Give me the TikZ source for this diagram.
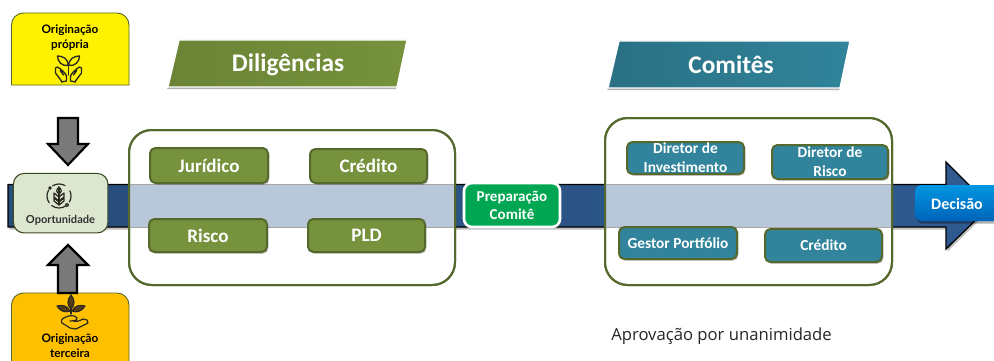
\documentclass[tikz,border=0pt]{standalone}
\usepackage{fontspec}
\setmainfont{Carlito}
\newfontfamily\lato{Lato}
\newfontfamily\opensans{Open Sans}
\usetikzlibrary{shadows,calc}
\definecolor{oliveline}{HTML}{56692C}
\definecolor{olivefill}{HTML}{76923C}
\definecolor{tealfill}{HTML}{31849B}
\definecolor{barblue}{HTML}{2F5A90}
\definecolor{bandblue}{HTML}{B9C7DB}
\definecolor{oppfill}{HTML}{DDE6CF}
\definecolor{icondark}{HTML}{2A2A20}
\tikzset{
 x=.75pt,y=-.75pt,
 softshadow/.style={drop shadow={shadow xshift=1pt,shadow yshift=-1.2pt,fill=black,opacity=.28}},
 panel/.style={draw=oliveline,line width=1.5pt,fill=white,rounded corners=17pt,inner sep=0pt},
 item/.style={rounded corners=4pt,line width=1.5pt,inner sep=0pt,align=center,text=white,
   font=\bfseries\fontsize{14.3}{16}\selectfont,softshadow},
 greenbox/.style={item,draw=oliveline,fill=olivefill},
 tealbox/.style={item,draw=oliveline,fill=tealfill,font=\bfseries\fontsize{11.5}{14.2}\selectfont},
 banner/.style={draw=white,line width=1pt,drop shadow={shadow xshift=-.6pt,shadow yshift=-1.6pt,fill=black,opacity=.3}},
 blockarrow/.style={draw=black,line width=1.6pt,fill=gray!95!black,miter limit=6},
 srcbox/.style={inner sep=0pt,font=\lato\bfseries\fontsize{8.8}{11.3}\selectfont,align=center,text=black},
 iconline/.style={draw=icondark,line width=.9pt,line cap=round,line join=round,fill=none},
}
\begin{document}
\begin{tikzpicture}
\useasboundingbox (0,0) rectangle (994,360);
\fill[white] (0,0) rectangle (994,360);
% main bar with arrow head
\path[draw=black,line width=1pt,left color=barblue!85!black,right color=barblue,
  drop shadow={shadow xshift=1pt,shadow yshift=-2pt,fill=black,opacity=.25}]
  (8,184.5) -- (946,184.5) -- (946,162) -- (990,206) -- (946,249) -- (946,227) -- (8,227) -- cycle;
% source boxes
\path[draw=oliveline,line width=.7pt,fill=yellow,rounded corners=9pt]
  (11.5,85) -- (11.5,13) -- (129,13) [sharp corners] -- (129,85) -- cycle;
\node[srcbox] (propria) at (70,37.5) {Originação\\própria};
\path[draw=oliveline,line width=.7pt,fill={rgb,255:red,255;green,192;blue,0},rounded corners=9pt]
  (11.5,362) -- (11.5,293) -- (129,293) [sharp corners] -- (129,362) -- cycle;
\node[srcbox] (terceira) at (70,345.5) {Originação\\terceira};
% block arrows
\path[blockarrow] (58,118) -- (78,118) -- (78,144) -- (88,144) -- (68,165) -- (48,144) -- (58,144) -- cycle;
\path[blockarrow] (58,293) -- (58,265) -- (48,265) -- (68,245) -- (88,265) -- (77,265) -- (77,293) -- cycle;
% panels
\node[panel,minimum width=326*.75pt,minimum height=155*.75pt] (dilig) at (292,207.5) {};
\node[panel,minimum width=287*.75pt,minimum height=167*.75pt] (comit) at (748.5,201.5) {};
\fill[bandblue] (dilig.west |- 0,184) rectangle (dilig.east |- 0,227);
\fill[bandblue] (comit.west |- 0,184) rectangle (comit.east |- 0,227);
\draw[gray!70,line width=.4pt] (130,184) -- (454,184) (130,227) -- (454,227) (606,184) -- (891,184) (606,227) -- (891,227);
\draw[oliveline,line width=1.5pt,rounded corners=17pt] (129,130) rectangle (455,285);
\draw[oliveline,line width=1.5pt,rounded corners=17pt] (605,118) rectangle (892,285);
% opportunity
\node[draw=oliveline!70!black,line width=.8pt,fill=oppfill,rounded corners=8pt,minimum width=94.5*.75pt,minimum height=59.5*.75pt,inner sep=0pt] (opp) at (60.7,203.2) {};
\node[inner sep=0pt,font=\lato\bfseries\fontsize{8.3}{10}\selectfont,text=black!80] (opptxt) at (60.5,220) {Oportunidade};
% icon: opportunity
\begin{scope}[shift={(59,196)},iconline]
 \draw (0,0) ++(150:9pt) arc (150:215:9pt);
 \draw (0,0) ++(232:9pt) arc (232:305:9pt);
 \draw (0,0) ++(60:9pt) arc (60:122:9pt);
 \draw (0,0) ++(25:9pt) arc (25:-30:9pt);
 \draw (0,-9) -- (0,9);
 \draw (0,-9) .. controls (-3,-6) and (-3,-4) .. (0,-2) .. controls (3,-4) and (3,-6) .. (0,-9);
 \draw (0,1) -- (-5,-3) -- (-5,1) -- (0,5) -- (5,1) -- (5,-3) -- cycle;
 \draw (0,6) -- (-5,2) -- (-5,5) -- (0,9) -- (5,5) -- (5,2) -- cycle;
 \draw[fill=oppfill] (-9,-8) circle (1.3) (8,9) circle (1.6);
\end{scope}
% icon: yellow
\begin{scope}[shift={(68.5,69)},iconline,line width=1pt]
 \draw (0,6) -- (0,-6);
 \draw (0,-4) .. controls (-1,-10) and (-5,-13) .. (-11,-13) .. controls (-11,-8) and (-7,-2) .. (0,-4);
 \draw (0,-4) .. controls (1,-10) and (5,-13) .. (11,-13) .. controls (11,-8) and (7,-2) .. (0,-4);
 \draw (-2,12) -- (-2,8) .. controls (-2,5) and (-5,3) .. (-8,0) -- (-11,-2) -- (-13,-1) -- (-13,4) -- (-7,12) -- (-7,13) -- cycle
  (-8,0) -- (-8,2) -- (-5,6);
 \draw (2,12) -- (2,8) .. controls (2,5) and (5,3) .. (8,0) -- (11,-2) -- (13,-1) -- (13,4) -- (7,12) -- (7,13) -- cycle
  (8,0) -- (8,2) -- (5,6);
\end{scope}
% icon: orange
\begin{scope}[shift={(71,312)},iconline]
 \draw (0,2) -- (0,-17);
 \draw[fill=icondark!80!orange] (0,-17) .. controls (-4,-12) and (-4,-7) .. (0,-3) .. controls (4,-7) and (4,-12) .. (0,-17);
 \draw[fill=icondark!80!orange] (-1,-1) .. controls (-4,-7) and (-9,-7) .. (-14,-6) .. controls (-11,-1) and (-6,1) .. (-1,-1);
 \draw[fill=icondark!80!orange] (1,-1) .. controls (4,-7) and (9,-7) .. (14,-6) .. controls (11,-1) and (6,1) .. (1,-1);
 \draw (-5,5) .. controls (-1,3) and (4,3) .. (6,6) .. controls (6,9) and (2,9) .. (-1,9)
   (2,9) .. controls (6,10) and (8,9) .. (12,7) -- (16,8) -- (17,11) -- (5,17) -- (-1,16) -- (-4,14)
   (-5,5) .. controls (-8,6) and (-11,8) .. (-9,11) -- (-4,14);
\end{scope}
% banners
\path[banner,left color=olivefill!90!black,right color=olivefill] (179,40) -- (407,40) -- (397,87) -- (168,87) -- cycle;
\node[inner sep=0pt,text=white,font=\bfseries\fontsize{19}{20}\selectfont] (tdil) at (288,65) {Diligências};
\path[banner,left color=tealfill!85!black,right color=tealfill] (619,41) -- (850,41) -- (840,88) -- (608,88) -- cycle;
\node[inner sep=0pt,text=white,font=\bfseries\fontsize{19}{20}\selectfont] (tcom) at (731,65) {Comitês};
% green items
\node[greenbox,minimum width=118*.75pt,minimum height=35*.75pt] (jur) at (209,165.5) {Jurídico};
\node[greenbox,minimum width=117*.75pt,minimum height=34*.75pt] (cre) at (368.5,166) {Crédito};
\node[greenbox,minimum width=118*.75pt,minimum height=33*.75pt] (ris) at (208,235.5) {Risco};
\node[greenbox,minimum width=117*.75pt,minimum height=33*.75pt] (pld) at (366.5,235.5) {PLD};
% preparation
\node[draw=white,line width=2pt,fill={rgb,255:red,0;green,166;blue,81},rounded corners=6pt,minimum width=96*.75pt,minimum height=44*.75pt,inner sep=0pt,align=center,text=white,font=\bfseries\fontsize{11.3}{13.5}\selectfont,drop shadow={shadow xshift=.8pt,shadow yshift=-.8pt,fill=black,opacity=.3}] (prep) at (512,205) {Preparação\\Comitê};
% teal items
\node[tealbox,minimum width=117*.75pt,minimum height=32*.75pt] (dinv) at (685.5,158) {Diretor de\\Investimento};
\node[tealbox,minimum width=116*.75pt,minimum height=34*.75pt] (drisk) at (830,162) {Diretor de\\Risco};
\node[tealbox,minimum width=118*.75pt,minimum height=32*.75pt] (gest) at (678,243) {Gestor Portfólio};
\node[tealbox,minimum width=117*.75pt,minimum height=33*.75pt] (ctl) at (823.5,245.5) {Crédito};
% decision
\node[top color={rgb,255:red,0;green,150;blue,225},bottom color={rgb,255:red,0;green,100;blue,185},rounded corners=5pt,minimum width=84*.75pt,minimum height=36*.75pt,inner sep=0pt,drop shadow={shadow xshift=1pt,shadow yshift=-2pt,fill=black,opacity=.3}] (dec) at (957,203) {};
\node[inner sep=0pt,text=white,font=\bfseries\fontsize{12}{13}\selectfont] (dectxt) at (957,204) {Decisão};
% footer
\node[anchor=west,inner sep=0pt,font=\opensans\fontsize{12.5}{14}\selectfont,text=black!85] (note) at (611,336.5) {Aprovação por unanimidade};
\end{tikzpicture}
\end{document}
